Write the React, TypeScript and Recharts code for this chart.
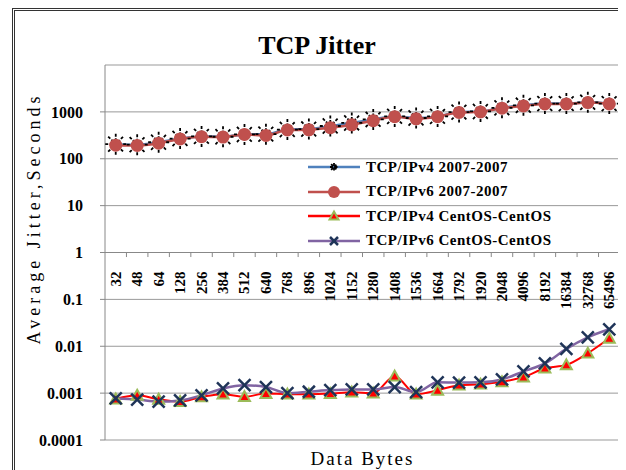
import { LineChart, Line, XAxis, YAxis, CartesianGrid, Legend, ReferenceLine, ReferenceDot } from 'recharts';

const serif = "'Liberation Serif', 'Times New Roman', serif";

const dataBytes = ['32', '48', '64', '128', '256', '384', '512', '640', '768', '896', '1024', '1152', '1280', '1408', '1536', '1664', '1792', '1920', '2048', '4096', '8192', '16384', '32768', '65496'];

const ipv4Old = [205, 200, 225, 270, 300, 295, 330, 335, 420, 430, 500, 580, 690, 800, 740, 800, 990, 1020, 1220, 1380, 1500, 1500, 1600, 1500];
const ipv6Old = [195, 192, 215, 265, 295, 290, 330, 315, 410, 415, 460, 530, 650, 790, 710, 790, 970, 1000, 1200, 1340, 1480, 1480, 1580, 1480];
const ipv4Cent = [0.00075, 0.0009, 0.00074, 0.00066, 0.00083, 0.00095, 0.00084, 0.00098, 0.00095, 0.00095, 0.00098, 0.00105, 0.001, 0.0023, 0.00095, 0.00115, 0.00148, 0.00155, 0.00175, 0.0022, 0.0034, 0.004, 0.0071, 0.0148];
const ipv6Cent = [0.00077, 0.00073, 0.00066, 0.0007, 0.0009, 0.00126, 0.00148, 0.00135, 0.001, 0.00107, 0.00116, 0.0012, 0.0012, 0.00135, 0.00105, 0.0017, 0.00168, 0.0017, 0.00196, 0.0029, 0.0043, 0.0088, 0.0155, 0.023];

const yTicks = [0.0001, 0.001, 0.01, 0.1, 1, 10, 100, 1000];

const data = dataBytes.map((b, i) => ({
  idx: i,
  bytes: b,
  v4old: ipv4Old[i],
  v6old: ipv6Old[i],
  v4cent: ipv4Cent[i],
  v6cent: ipv6Cent[i],
}));

// marker shapes
const Star = ({ cx, cy, s = 10.5 }: any) => {
  const d = s * 0.72;
  return (
    <g stroke="#000" strokeWidth={1.8} strokeDasharray="3 1.5">
      <line x1={cx - d} y1={cy - d} x2={cx + d} y2={cy + d} />
      <line x1={cx - d} y1={cy + d} x2={cx + d} y2={cy - d} />
      <line x1={cx} y1={cy - s} x2={cx} y2={cy + s} />
      <line x1={cx - s} y1={cy} x2={cx + s} y2={cy} />
    </g>
  );
};

const Circle = ({ cx, cy, r = 6.5 }: any) => <circle cx={cx} cy={cy} r={r} fill="#C0504D" />;

const Triangle = ({ cx, cy, s = 5.5 }: any) => (
  <polygon
    points={`${cx},${cy - s} ${cx + s},${cy + s * 0.8} ${cx - s},${cy + s * 0.8}`}
    fill="#FF0000"
    stroke="#9BBB59"
    strokeWidth={2}
  />
);

const Cross = ({ cx, cy, s = 6 }: any) => (
  <g stroke="#1F3458" strokeWidth={2.5}>
    <line x1={cx - s} y1={cy - s} x2={cx + s} y2={cy + s} />
    <line x1={cx - s} y1={cy + s} x2={cx + s} y2={cy - s} />
  </g>
);

const series = [
  { key: 'v4old', name: 'TCP/IPv4 2007-2007', color: '#4F81BD', Marker: Star },
  { key: 'v6old', name: 'TCP/IPv6 2007-2007', color: '#C0504D', Marker: Circle },
  { key: 'v4cent', name: 'TCP/IPv4 CentOS-CentOS', color: '#FF0000', Marker: Triangle },
  { key: 'v6cent', name: 'TCP/IPv6 CentOS-CentOS', color: '#8064A2', Marker: Cross },
];

const legendMarker = (key: string) => {
  if (key === 'v4old') return <Star cx={26} cy={10} s={4} />;
  if (key === 'v6old') return <Circle cx={26} cy={10} r={6} />;
  if (key === 'v4cent') return <Triangle cx={26} cy={10} s={4.5} />;
  return <Cross cx={26} cy={10} s={4} />;
};

const renderLegend = () => (
  <div style={{ fontFamily: serif, fontWeight: 'bold', fontSize: 15, letterSpacing: 0.5, color: '#000' }}>
    {series.map(s => (
      <div key={s.key} style={{ display: 'flex', alignItems: 'center', height: 24.5 }}>
        <svg width={52} height={20}>
          <line x1={0} y1={10} x2={52} y2={10} stroke={s.color} strokeWidth={2.5} />
          {legendMarker(s.key)}
        </svg>
        <span style={{ marginLeft: 6, whiteSpace: 'nowrap' }}>{s.name}</span>
      </div>
    ))}
  </div>
);

const YTitle = ({ viewBox }: any) => {
  const x = viewBox.x + 26;
  const y = viewBox.y + viewBox.height / 2 - 34;
  return (
    <text x={x} y={y} transform={`rotate(-90 ${x} ${y})`} textAnchor="middle" dominantBaseline="central"
      fontFamily={serif} fontSize={18} letterSpacing={4} fill="#000">
      Average Jitter,Seconds
    </text>
  );
};

const XTitle = ({ viewBox }: any) => (
  <text x={viewBox.x + viewBox.width / 2} y={viewBox.y + 18} textAnchor="middle" dominantBaseline="central"
    fontFamily={serif} fontSize={19} letterSpacing={2} fill="#000">
    Data Bytes
  </text>
);

const CategoryLabel = ({ cx, cy, text }: any) => {
  const y = cy + 19;
  return (
    <text x={cx} y={y} transform={`rotate(-90 ${cx} ${y})`} textAnchor="end" dominantBaseline="central"
      fontFamily={serif} fontWeight="bold" fontSize={15} fill="#000">
      {text}
    </text>
  );
};

export default function App() {
  return (
    <div style={{ position: 'relative', width: 618, height: 462, overflow: 'hidden', background: '#fff' }}>
      <div style={{ position: 'absolute', left: 4, top: 0, width: 612, height: 520, boxSizing: 'border-box', border: '3px double #333' }} />
      <div style={{ position: 'absolute', left: 0, top: 25, width: 618, textAlign: 'center', fontFamily: serif, fontWeight: 'bold', fontSize: 26, lineHeight: '26px' }}>
        TCP Jitter
      </div>
      <LineChart width={618} height={462} data={data} margin={{ top: 57, right: 6, bottom: 0, left: 0 }}>
        <CartesianGrid vertical={false} stroke="#999" />
        <XAxis dataKey="idx" type="number" domain={[-0.5, dataBytes.length - 0.5]} height={30}
          tick={false} tickLine={false} axisLine={false} label={{ content: XTitle }} />
        <YAxis scale="log" domain={[0.0001, 10000]} ticks={yTicks} allowDataOverflow width={97}
          stroke="#888" tickSize={5} tickMargin={17}
          tickFormatter={(v: number) => String(v)}
          tick={{ fontFamily: serif, fontWeight: 'bold', fontSize: 16, fill: '#000' }}
          label={{ content: YTitle }} />
        <ReferenceLine y={1} stroke="#888" strokeWidth={1} />
        {dataBytes.map((_, i) => (
          <ReferenceLine key={'t' + i} stroke="#888" strokeWidth={1}
            segment={[{ x: i + 0.5, y: 1 }, { x: i + 0.5, y: 0.8 }]} />
        ))}
        {dataBytes.map((b, i) => (
          <ReferenceDot key={'l' + i} x={i} y={1} r={0}
            shape={(p: any) => <CategoryLabel cx={p.cx} cy={p.cy} text={b} />} />
        ))}
        <Legend content={renderLegend} layout="vertical" verticalAlign="middle" align="center"
          wrapperStyle={{ position: 'absolute', left: 300, top: 147, width: 'auto' }} />
        {series.map(s => (
          <Line key={s.key} type="monotone" dataKey={s.key} name={s.name} stroke={s.color}
            strokeWidth={s.key === 'v4cent' ? 2 : 2.5}
            dot={(p: any) => <g key={s.key + p.index}><s.Marker cx={p.cx} cy={p.cy} /></g>}
            activeDot={false} isAnimationActive={false} />
        ))}
      </LineChart>
    </div>
  );
}
